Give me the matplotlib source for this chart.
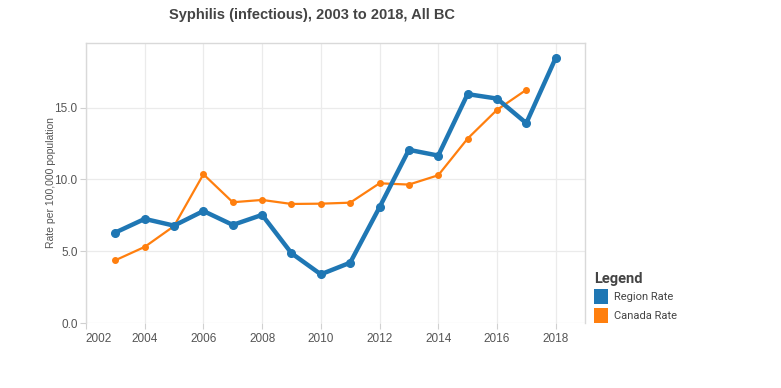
import matplotlib
matplotlib.use("Agg")
import matplotlib.pyplot as plt
from matplotlib.patches import Patch
from matplotlib.transforms import ScaledTranslation

years_region = [2003, 2004, 2005, 2006, 2007, 2008, 2009, 2010, 2011, 2012,
                2013, 2014, 2015, 2016, 2017, 2018]
region_rate = [6.3, 7.25, 6.78, 7.8, 6.83, 7.53, 4.86, 3.39, 4.2, 8.06,
               12.06, 11.66, 15.94, 15.63, 13.92, 18.45]
years_canada = [2003, 2004, 2005, 2006, 2007, 2008, 2009, 2010, 2011, 2012,
                2013, 2014, 2015, 2016, 2017]
canada_rate = [4.37, 5.3, 6.75, 10.36, 8.41, 8.57, 8.29, 8.31, 8.38, 9.73,
               9.64, 10.29, 12.84, 14.84, 16.24]
x_ticks = [2002, 2004, 2006, 2008, 2010, 2012, 2014, 2016, 2018]
y_ticks = [0.0, 5.0, 10.0, 15.0]

title = "Syphilis (infectious), 2003 to 2018, All BC"
ylabel = "Rate per 100,000 population"
series_names = ["Region Rate", "Canada Rate"]
colors = ["#1f77b4", "#ff7f0e"]

plt.rcParams['font.family'] = ['Liberation Sans', 'DejaVu Sans']

fig = plt.figure(figsize=(7.81, 3.88), dpi=100)
ax = fig.add_axes([86/781, 65/388, (585-86)/781, (323-43)/388])

ax.plot(years_canada, canada_rate, color=colors[1], lw=1.6, marker='o', ms=4, zorder=3)
ax.plot(years_region, region_rate, color=colors[0], lw=3.2, marker='o', ms=5.5, zorder=4)

ax.set_xlim(2002, 2019)
ax.set_ylim(0, 19.5)
ax.set_xticks(x_ticks)
ax.set_xticklabels([str(t) for t in x_ticks])
ax.set_yticks(y_ticks)
ax.set_yticklabels([f"{t:.1f}" for t in y_ticks])
ax.grid(True, color="#ebebeb", lw=0.9)
ax.set_axisbelow(True)

for s in ['left', 'top', 'right']:
    ax.spines[s].set_color("#d9d9d9")
    ax.spines[s].set_linewidth(1.0)
ax.spines['bottom'].set_visible(False)
ax.tick_params(axis='both', colors="#d0d0d0", labelcolor="#555555", labelsize=8.5, length=4, width=0.8)
ax.tick_params(axis='x', pad=3)
ax.tick_params(axis='y', pad=2)

# first x label is nudged right, as in the reference
first = ax.get_xticklabels()[0]
first.set_transform(first.get_transform() + ScaledTranslation(13/100, 0, fig.dpi_scale_trans))

ax.set_ylabel(ylabel, fontsize=7.5, color="#555555")
ax.yaxis.set_label_coords((56 - 86) / 499, 0.5)
fig.text(312/781, 1 - 15/388, title, ha='center', va='center', fontsize=10.5,
         fontweight='bold', color="#444444")

handles = [Patch(facecolor=c, edgecolor='none') for c in colors]
leg = fig.legend(handles, series_names, title="Legend", loc='upper left',
                 bbox_to_anchor=(594/781, 1 - 272/388), frameon=False,
                 prop={'family': 'Roboto', 'size': 8}, handlelength=1.3,
                 handleheight=1.7, handletextpad=0.5, labelspacing=0.3,
                 borderaxespad=0, borderpad=0)
leg.get_title().set_fontsize(10.5)
leg.get_title().set_fontweight('bold')
leg.get_title().set_family('Roboto')
leg.get_title().set_color('#444444')
leg._legend_box.align = "left"
for t in leg.get_texts():
    t.set_color('#444444')

fig.savefig("out.png", dpi=100)
